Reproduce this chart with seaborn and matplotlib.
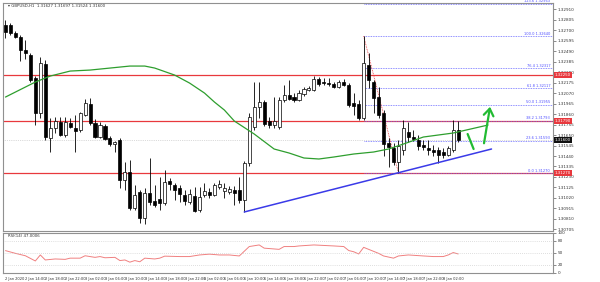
import matplotlib
matplotlib.use("Agg")
import matplotlib.pyplot as plt
import seaborn as sns
import numpy as np
import pandas as pd

# ---------------- data (GBPUSD H1) ----------------
opens = [1.3275,1.3275,1.3267,1.3263,1.3250,1.3245,1.3222,1.3187,1.3236,1.3162,
         1.3172,1.3178,1.3165,1.3177,1.3172,1.3170,1.3185,1.3196,1.3177,1.3163,
         1.3174,1.3162,1.3156,1.3160,1.3120,1.3128,1.3092,1.3108,1.3082,1.3107,
         1.3099,1.3101,1.3097,1.3119,1.3115,1.3112,1.3105,1.3098,1.3104,1.3090,
         1.3105,1.3108,1.3105,1.3113,1.3109,1.3108,1.3110,1.3110,1.3100,1.3137,
         1.3173,1.3193,1.3198,1.3179,1.3175,1.3173,1.3200,1.3205,1.3203,1.3200,
         1.3206,1.3210,1.3210,1.3221,1.3218,1.3217,1.3216,1.3213,1.3218,1.3215,
         1.3197,1.3196,1.3182,1.3235,1.3218,1.3203,1.3187,1.3157,1.3152,1.3138,
         1.3150,1.3168,1.3163,1.3160,1.3155,1.3152,1.3150,1.3150,1.3148,1.3145,1.3150,1.3170]
highs = [1.3280,1.3277,1.3269,1.3265,1.3260,1.3247,1.3224,1.3243,1.3240,1.3182,
         1.3183,1.3183,1.3183,1.3182,1.3185,1.3188,1.3201,1.3202,1.3181,1.3178,
         1.3176,1.3164,1.3159,1.3162,1.3138,1.3140,1.3115,1.3110,1.3112,1.3142,
         1.3115,1.3123,1.3130,1.3122,1.3117,1.3115,1.3110,1.3111,1.3113,1.3113,
         1.3117,1.3112,1.3117,1.3120,1.3117,1.3114,1.3114,1.3123,1.3139,1.3187,
         1.3218,1.3218,1.3200,1.3183,1.3203,1.3203,1.3215,1.3220,1.3207,1.3210,
         1.3213,1.3214,1.3224,1.3223,1.3222,1.3222,1.3218,1.3220,1.3221,1.3217,
         1.3207,1.3200,1.3264,1.3247,1.3220,1.3213,1.3190,1.3162,1.3157,1.3160,
         1.3180,1.3178,1.3170,1.3165,1.3160,1.3160,1.3155,1.3153,1.3152,1.3154,1.3180,1.3179]
lows = [1.3262,1.3265,1.3262,1.3239,1.3241,1.3218,1.3175,1.3182,1.3160,1.3148,
        1.3167,1.3164,1.3163,1.3172,1.3148,1.3168,1.3184,1.3175,1.3162,1.3162,
        1.3160,1.3154,1.3148,1.3112,1.3110,1.3090,1.3090,1.3077,1.3076,1.3095,
        1.3093,1.3090,1.3095,1.3110,1.3100,1.3098,1.3095,1.3096,1.3088,1.3088,
        1.3103,1.3102,1.3104,1.3111,1.3102,1.3106,1.3095,1.3097,1.3088,1.3134,
        1.3170,1.3182,1.3174,1.3172,1.3172,1.3171,1.3198,1.3200,1.3198,1.3199,
        1.3204,1.3209,1.3209,1.3214,1.3215,1.3214,1.3212,1.3212,1.3214,1.3193,
        1.3185,1.3180,1.3180,1.3212,1.3187,1.3182,1.3144,1.3133,1.3135,1.3127,
        1.3145,1.3158,1.3159,1.3150,1.3150,1.3145,1.3144,1.3137,1.3142,1.3144,1.3148,1.3158]
closes = [1.3268,1.3267,1.3263,1.3250,1.3247,1.3220,1.3187,1.3237,1.3163,1.3172,
          1.3179,1.3165,1.3178,1.3173,1.3169,1.3187,1.3197,1.3177,1.3163,1.3175,
          1.3161,1.3156,1.3158,1.3120,1.3128,1.3092,1.3105,1.3082,1.3107,1.3098,
          1.3095,1.3097,1.3118,1.3116,1.3110,1.3106,1.3099,1.3106,1.3089,1.3103,
          1.3109,1.3105,1.3115,1.3116,1.3112,1.3111,1.3107,1.3100,1.3137,1.3183,
          1.3193,1.3198,1.3176,1.3175,1.3179,1.3200,1.3205,1.3201,1.3200,1.3207,
          1.3211,1.3212,1.3221,1.3216,1.3217,1.3216,1.3213,1.3218,1.3215,1.3195,
          1.3194,1.3182,1.3237,1.3220,1.3202,1.3185,1.3156,1.3153,1.3138,1.3154,
          1.3172,1.3163,1.3161,1.3154,1.3153,1.3150,1.3148,1.3145,1.3145,1.3152,1.3170,1.3160]

# moving average (shifted forward) read at vertices
ma_idx = [0, 4, 6, 9, 13, 17, 21, 25, 28, 30, 34, 37, 40, 42, 44, 46, 50, 54, 57, 60,
          63, 66, 70, 74, 77, 80, 84, 90, 97]
ma_val = [1.3203, 1.3213, 1.3218, 1.3224, 1.3229, 1.3230, 1.3232, 1.3234, 1.3234, 1.3232,
          1.3225, 1.3217, 1.3207, 1.3198, 1.3190, 1.3179, 1.3166, 1.3151, 1.3147, 1.3142,
          1.3141, 1.3143, 1.3146, 1.3148, 1.3151, 1.3156, 1.3163, 1.3167, 1.3175]

# RSI(14) read at vertices
rsi_idx = [0, 2, 4, 6, 7, 8, 10, 12, 13, 15, 16, 18, 19, 20, 22, 23, 24, 25, 26, 27, 28, 30,
           31, 32, 35, 37, 39, 41, 43, 45, 47, 49, 51, 52, 55, 56, 58, 59, 62, 66, 68, 69, 70,
           71, 72, 73, 75, 76, 78, 79, 81, 84, 86, 88, 89, 90, 91]
rsi_val = [55.8, 49, 43, 30, 45, 32.5, 35, 34, 37, 37, 43, 39, 41, 38, 39, 31, 32.5, 27, 31, 28,
           37, 35, 37, 42, 41, 41, 45, 47, 45, 45, 42.5, 66, 70, 62, 59, 66, 66, 67.5, 70, 67.5,
           66, 56, 53, 47.5, 64, 59, 49, 42.5, 37, 42.5, 45, 42.5, 41, 41, 45, 51, 47.5]
rsi_levels = [80, 50, 20]

# horizontal support / resistance lines
hlines = [1.3225, 1.3179, 1.3127]
current_price = 1.3160

# fibonacci retracement anchors (bar index, price)
fib_hi = (72, 1.3264)
fib_lo = (79, 1.3127)
fib_ratios = [0.0, 23.6, 38.2, 50.0, 61.8, 76.4, 100.0, 123.6]

# trend line (bar index, price)
trend_idx = [48, 97.7]
trend_px = [1.3088, 1.3151]

# hand-drawn green forecast marks (bar index, price)
mark1_idx = [92.9, 94.1]
mark1_px = [1.3166, 1.3151]
arrow_idx = [96.1, 97.5]
arrow_px = [1.3154, 1.3195]

time_labels = ["2 Jan 2020", "2 Jan 14:00", "2 Jan 18:00", "2 Jan 22:00", "3 Jan 02:00",
               "3 Jan 06:00", "3 Jan 10:00", "3 Jan 14:00", "3 Jan 18:00", "3 Jan 22:00",
               "6 Jan 02:00", "6 Jan 06:00", "6 Jan 10:00", "6 Jan 14:00", "6 Jan 18:00",
               "6 Jan 22:00", "7 Jan 02:00", "7 Jan 06:00", "7 Jan 10:00", "7 Jan 14:00",
               "7 Jan 18:00", "7 Jan 22:00", "8 Jan 02:00"]

# ---------------- drawing ----------------
sns.set_style("white")
plt.rcParams['font.family'] = ['DejaVu Sans']

fig = plt.figure(figsize=(6.0, 2.82), dpi=100)
ax = fig.add_axes([0.005, 0.181, 0.917, 0.808])
ax2 = fig.add_axes([0.005, 0.032, 0.917, 0.142])

df = pd.DataFrame({"o": opens, "h": highs, "l": lows, "c": closes})
df["i"] = np.arange(len(df))
XMAX = 110.1
YMIN, YMAX = 1.3069, 1.3297

# wicks
ax.vlines(df["i"], df["l"], df["h"], color="black", lw=0.6, zorder=3)
# bodies
up = df["c"] >= df["o"]
body_h = (df["c"] - df["o"]).abs().clip(lower=0.00008)
body_b = df[["o", "c"]].min(axis=1)
ax.bar(df["i"][up], body_h[up], bottom=body_b[up], width=0.62, color="white",
       edgecolor="black", linewidth=0.5, zorder=4)
ax.bar(df["i"][~up], body_h[~up], bottom=body_b[~up], width=0.62, color="black",
       edgecolor="black", linewidth=0.5, zorder=4)

# moving average
sns.lineplot(x=ma_idx, y=ma_val, ax=ax, color="#2e9e2e", lw=0.9, sort=False, zorder=5)

# horizontal lines
for p in hlines:
    ax.axhline(p, color="#e8383d", lw=0.9, zorder=2)
ax.axhline(current_price, color="#b8b8b8", lw=0.5, ls=":", zorder=2)

# fibonacci
rng = fib_hi[1] - fib_lo[1]
for r in fib_ratios:
    lv = fib_lo[1] + rng * r / 100.0
    ax.plot([fib_hi[0], XMAX], [lv, lv], color="#6b6bff", lw=0.6, ls=(0, (1, 1)), zorder=2)
    ax.text(XMAX - 0.6, lv + 0.00003, f"{r:.1f} {lv:.5f}", ha="right", va="bottom",
            fontsize=2.6, color="#5050ff", zorder=6)
ax.plot([fib_hi[0], fib_lo[0]], [fib_hi[1], fib_lo[1]], color="#e8383d", lw=0.6,
        ls=(0, (1, 1)), zorder=2)

# trend line
sns.lineplot(x=trend_idx, y=trend_px, ax=ax, color="#3a3ae8", lw=1.1, zorder=5)

# green marks
ax.plot(mark1_idx, mark1_px, color="#22bb33", lw=1.6, solid_capstyle="round", zorder=6)
ax.annotate("", xy=(arrow_idx[1], arrow_px[1]), xytext=(arrow_idx[0], arrow_px[0]),
            arrowprops=dict(arrowstyle="-|>,head_width=0.0,head_length=0.0", color="#22bb33", lw=1.6),
            zorder=6)
ax.annotate("", xy=(arrow_idx[1], arrow_px[1] + 0.0001), xytext=(arrow_idx[0], arrow_px[0]),
            arrowprops=dict(arrowstyle="->,head_width=0.35,head_length=0.5", color="#22bb33",
                            lw=1.6, mutation_scale=10), zorder=6)

ax.set_xlim(-0.5, XMAX)
ax.set_ylim(YMIN, YMAX)

# right price axis
ticks = [1.32910 - k * 0.00105 for k in range(22)]
ax.yaxis.tick_right()
ax.set_yticks(ticks)
ax.set_yticklabels([f"{t:.5f}" for t in ticks])
ax.tick_params(axis="y", labelsize=3, length=2, width=0.4, pad=1.5, colors="#333333")
ax.set_xticks([])
for s in ax.spines.values():
    s.set_color("#909090")
    s.set_linewidth(0.8)

# price boxes on axis
for p, col in [(hlines[0], "#e8383d"), (hlines[1], "#e8383d"), (hlines[2], "#e8383d"),
               (current_price, "#111111")]:
    ax.text(XMAX + 0.3, p, f"{p:.5f}", ha="left", va="center", fontsize=2.8, color="white",
            bbox=dict(boxstyle="square,pad=0.25", fc=col, ec="none"), zorder=7, clip_on=False)

ax.text(0.6, YMAX - 0.00012, "\u25be GBPUSD,H1  1.31627 1.31697 1.31524 1.31600",
        fontsize=2.8, color="#333333", va="top", ha="left")

# ---------------- RSI panel ----------------
sns.lineplot(x=rsi_idx, y=rsi_val, ax=ax2, color="#f08080", lw=0.7, sort=False)
for lv in rsi_levels:
    ax2.axhline(lv, color="#c0c0c0", lw=0.5, ls=(0, (1, 2)))
ax2.set_xlim(-0.5, XMAX)
ax2.set_ylim(0, 100)
ax2.yaxis.tick_right()
ax2.set_yticks([0, 20, 50, 80, 100])
ax2.set_yticklabels(["0", "20", "50", "80", "100"])
ax2.tick_params(axis="y", labelsize=3, length=2, width=0.4, pad=1.5, colors="#333333")
ax2.set_xticks([4 * k for k in range(len(time_labels))])
ax2.set_xticklabels(time_labels, ha="left")
ax2.tick_params(axis="x", labelsize=2.6, length=2, width=0.4, pad=1, colors="#333333")
ax2.set_ylabel("")
for s in ax2.spines.values():
    s.set_color("#909090")
    s.set_linewidth(0.8)
ax2.text(0.6, 97, "RSI(14) 47.0006", fontsize=2.8, color="#333333", va="top", ha="left")

fig.savefig("out.png", dpi=100, facecolor="white")
